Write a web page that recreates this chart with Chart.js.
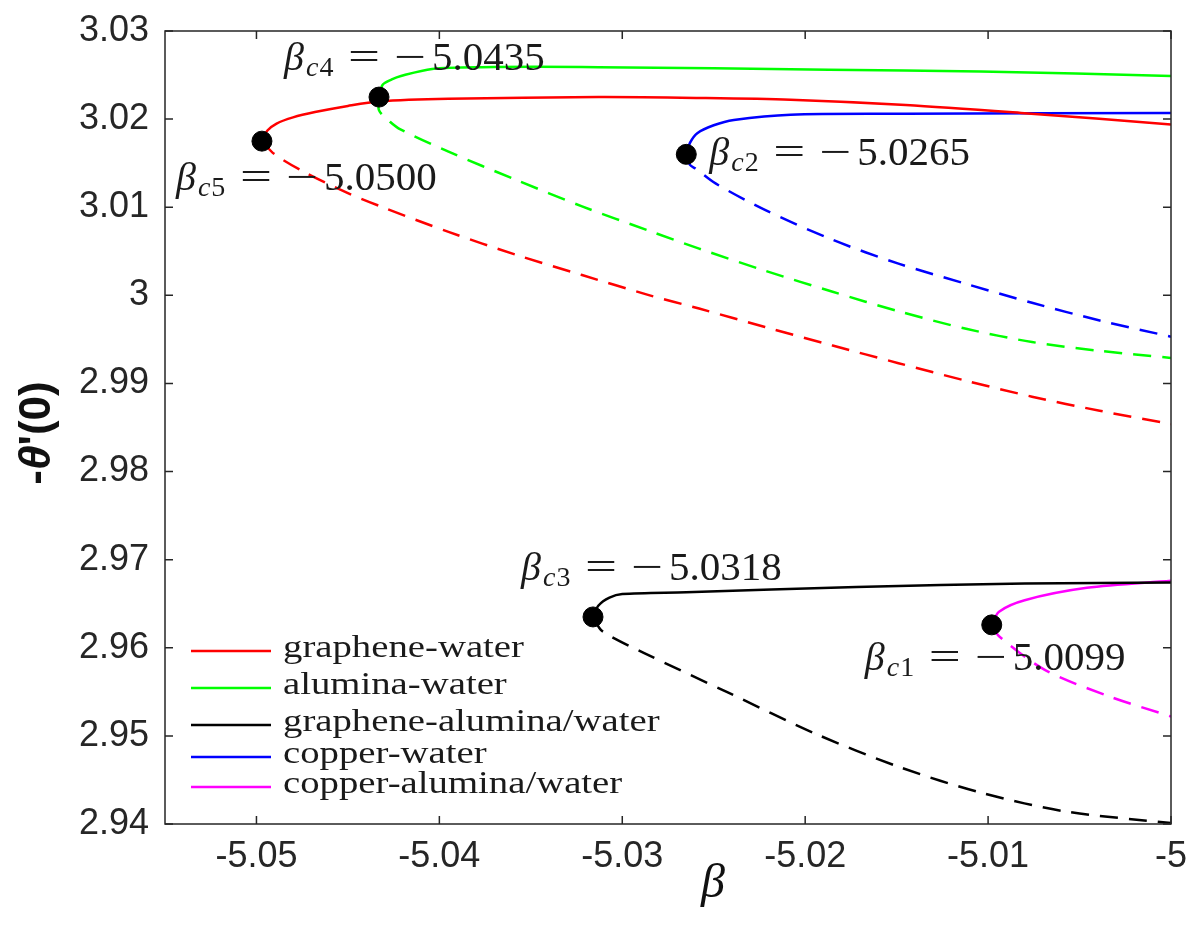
<!DOCTYPE html>
<html>
<head>
<meta charset="utf-8">
<script src="https://cdn.jsdelivr.net/npm/chart.js@4.4.1/dist/chart.umd.min.js"></script>
<style>
  html, body { margin: 0; padding: 0; background: #fff; }
  #wrap { width: 1202px; height: 925px; }
</style>
</head>
<body>
<div id="wrap"><canvas id="chart" width="1202" height="925"></canvas></div>
<script>
// values: beta on x, -theta'(0) on y
// each branch starts at its turning point (the black dot)

// graphene-water (red)
const grapheneUpperBeta = [-5.0497, -5.0494, -5.0489, -5.0480, -5.0468, -5.0450, -5.0433, -5.0395, -5.0313, -5.0258, -5.0208, -5.0145, -5.0082, -5.0000];
const grapheneUpperTheta = [3.0175, 3.0187, 3.0195, 3.0202, 3.0208, 3.0215, 3.0220, 3.0223, 3.0225, 3.0224, 3.0222, 3.0216, 3.0207, 3.0194];
const grapheneLowerBeta = [-5.0497, -5.0490, -5.0473, -5.0450, -5.0431, -5.0395, -5.0358, -5.0322, -5.0285, -5.0258, -5.0222, -5.0185, -5.0149, -5.0112, -5.0076, -5.0039, -5.0000];
const grapheneLowerTheta = [3.0175, 3.0160, 3.0139, 3.0116, 3.0100, 3.0072, 3.0046, 3.0023, 3.0000, 2.9985, 2.9964, 2.9943, 2.9923, 2.9903, 2.9885, 2.9869, 2.9854];

// alumina-water (green)
const aluminaUpperBeta = [-5.0433, -5.0431, -5.0426, -5.0421, -5.0404, -5.0377, -5.0313, -5.0187, -5.0104, -5.0000];
const aluminaUpperTheta = [3.0225, 3.0239, 3.0245, 3.0249, 3.0257, 3.0259, 3.0259, 3.0256, 3.0254, 3.0249];
const aluminaLowerBeta = [-5.0433, -5.0433, -5.0427, -5.0421, -5.0395, -5.0358, -5.0322, -5.0285, -5.0258, -5.0222, -5.0185, -5.0149, -5.0112, -5.0076, -5.0039, -5.0000];
const aluminaLowerTheta = [3.0225, 3.0210, 3.0197, 3.0188, 3.0163, 3.0131, 3.0101, 3.0073, 3.0053, 3.0028, 3.0004, 2.9982, 2.9962, 2.9947, 2.9937, 2.9929];

// graphene-alumina/water (black)
const hybridGUpperBeta = [-5.0316, -5.0313, -5.0307, -5.0300, -5.0265, -5.0172, -5.0080, -5.0000];
const hybridGUpperTheta = [2.9635, 2.9648, 2.9657, 2.9661, 2.9663, 2.9669, 2.9673, 2.9674];
const hybridGLowerBeta = [-5.0316, -5.0311, -5.0288, -5.0242, -5.0195, -5.0149, -5.0103, -5.0057, -5.0000];
const hybridGLowerTheta = [2.9635, 2.9619, 2.9594, 2.9549, 2.9503, 2.9465, 2.9435, 2.9414, 2.9401];

// copper-water (blue)
const copperUpperBeta = [-5.0265, -5.0263, -5.0259, -5.0250, -5.0239, -5.0208, -5.0145, -5.0000];
const copperUpperTheta = [3.0160, 3.0173, 3.0184, 3.0193, 3.0199, 3.0205, 3.0206, 3.0207];
const copperLowerBeta = [-5.0265, -5.0263, -5.0260, -5.0249, -5.0222, -5.0185, -5.0149, -5.0112, -5.0076, -5.0039, -5.0000];
const copperLowerTheta = [3.0160, 3.0148, 3.0144, 3.0127, 3.0097, 3.0063, 3.0036, 3.0013, 2.99915, 2.99715, 2.9953];

// copper-alumina/water (magenta)
const hybridCUpperBeta = [-5.0098, -5.0094, -5.0080, -5.0046, -5.0000];
const hybridCUpperTheta = [2.9626, 2.9641, 2.9654, 2.9668, 2.9676];
const hybridCLowerBeta = [-5.0098, -5.0094, -5.0069, -5.0034, -5.0000];
const hybridCLowerTheta = [2.9626, 2.9613, 2.9575, 2.9545, 2.9522];

// turning points (dots) and the critical values printed next to them
const dotBeta = [-5.0098, -5.0265, -5.0316, -5.0433, -5.0497];
const dotTheta = [2.9626, 3.0160, 2.9635, 3.0225, 3.0175];
const criticalNames = ["c1", "c2", "c3", "c4", "c5"];
const criticalBeta = [-5.0099, -5.0265, -5.0318, -5.0435, -5.0500];

const seriesNames = ["graphene-water", "alumina-water", "graphene-alumina/water", "copper-water", "copper-alumina/water"];
const seriesColors = ["#ff0000", "#00ff00", "#000000", "#0000ff", "#ff00ff"];

const xTicks = [-5.05, -5.04, -5.03, -5.02, -5.01, -5];
const yTicks = [2.94, 2.95, 2.96, 2.97, 2.98, 2.99, 3.0, 3.01, 3.02, 3.03];

const toPoints = (bs, ts) => bs.map((b, i) => ({ x: b, y: ts[i] }));

const curve = function (bs, ts, color, dashed) {
  return {
    data: toPoints(bs, ts),
    showLine: true,
    borderColor: color,
    borderWidth: 2.5,
    borderDash: dashed ? [18, 11] : [],
    pointRadius: 0,
    tension: 0.3,
    fill: false,
  };
};

const datasets = [
  {
    data: toPoints(dotBeta, dotTheta),
    pointRadius: 10,
    pointBackgroundColor: "#000",
    pointBorderColor: "#000",
    showLine: false,
  },
  curve(grapheneUpperBeta, grapheneUpperTheta, seriesColors[0], false),
  curve(grapheneLowerBeta, grapheneLowerTheta, seriesColors[0], true),
  curve(aluminaUpperBeta, aluminaUpperTheta, seriesColors[1], false),
  curve(aluminaLowerBeta, aluminaLowerTheta, seriesColors[1], true),
  curve(hybridGUpperBeta, hybridGUpperTheta, seriesColors[2], false),
  curve(hybridGLowerBeta, hybridGLowerTheta, seriesColors[2], true),
  curve(copperUpperBeta, copperUpperTheta, seriesColors[3], false),
  curve(copperLowerBeta, copperLowerTheta, seriesColors[3], true),
  curve(hybridCUpperBeta, hybridCUpperTheta, seriesColors[4], false),
  curve(hybridCLowerBeta, hybridCLowerTheta, seriesColors[4], true),
];

const SERIF = '"Liberation Serif", "Times New Roman", serif';
const SANS = '"Liberation Sans", Arial, sans-serif';
const AXIS_COLOR = "#262626";

// label offsets from each dot (px), baseline-left of the beta
const labelOffsets = [[-127, 45], [23, 11], [-72, -37], [-95, -27], [-86, 49]];
const legendRowY = [651, 688, 725, 757, 787];

const stretchText = function (ctx, s, x, y, w, font) {
  ctx.font = font;
  const m = ctx.measureText(s).width;
  ctx.save();
  ctx.translate(x, y);
  ctx.scale(w / m, 1);
  ctx.fillText(s, 0, 0);
  ctx.restore();
};

const drawCritical = function (ctx, x0, y0, name, value) {
  ctx.fillStyle = "#1a1a1a";
  ctx.textAlign = "left";
  ctx.textBaseline = "alphabetic";
  ctx.font = `italic 40px ${SERIF}`;
  ctx.fillText("β", x0, y0);
  // subscript: italic c, upright digit
  ctx.font = `italic 28px ${SERIF}`;
  ctx.fillText(name[0], x0 + 22, y0 + 6);
  const cw = ctx.measureText(name[0]).width;
  ctx.font = `28px ${SERIF}`;
  ctx.fillText(name.slice(1), x0 + 23 + cw, y0 + 6);
  stretchText(ctx, "=", x0 + 64, y0, 32, `40px ${SERIF}`);
  stretchText(ctx, "−", x0 + 110, y0, 32, `40px ${SERIF}`);
  ctx.font = `41px ${SERIF}`;
  ctx.fillText(Math.abs(value).toFixed(4), x0 + 148, y0);
};

const overlay = {
  id: "overlay",
  afterDatasetsDraw(chart) {
    const { ctx, chartArea: a, scales } = chart;
    const x = scales.x;
    const y = scales.y;
    ctx.save();

    // box + inward ticks on all four sides
    ctx.strokeStyle = AXIS_COLOR;
    ctx.lineWidth = 1.5;
    ctx.strokeRect(a.left, a.top, a.right - a.left, a.bottom - a.top);
    const tl = 8;
    ctx.beginPath();
    x.ticks.forEach((t) => {
      const px = x.getPixelForValue(t.value);
      ctx.moveTo(px, a.bottom);
      ctx.lineTo(px, a.bottom - tl);
      ctx.moveTo(px, a.top);
      ctx.lineTo(px, a.top + tl);
    });
    y.ticks.forEach((t) => {
      const py = y.getPixelForValue(t.value);
      ctx.moveTo(a.left, py);
      ctx.lineTo(a.left + tl, py);
      ctx.moveTo(a.right, py);
      ctx.lineTo(a.right - tl, py);
    });
    ctx.stroke();

    // critical point labels
    dotBeta.forEach((b, i) => {
      const px = x.getPixelForValue(b);
      const py = y.getPixelForValue(dotTheta[i]);
      drawCritical(ctx, px + labelOffsets[i][0], py + labelOffsets[i][1], criticalNames[i], criticalBeta[i]);
    });

    // legend, no box
    seriesNames.forEach((name, i) => {
      const ly = legendRowY[i];
      ctx.strokeStyle = seriesColors[i];
      ctx.lineWidth = 2.5;
      ctx.beginPath();
      ctx.moveTo(191, ly);
      ctx.lineTo(271, ly);
      ctx.stroke();
      ctx.fillStyle = "#1a1a1a";
      ctx.font = `31px ${SERIF}`;
      ctx.textAlign = "left";
      ctx.textBaseline = "alphabetic";
      ctx.save();
      ctx.translate(283, ly + 6);
      ctx.scale(1.25, 1);
      ctx.fillText(name, 0, 0);
      ctx.restore();
    });

    // axis titles
    ctx.fillStyle = "#111";
    ctx.font = `italic 48px ${SERIF}`;
    ctx.textAlign = "center";
    ctx.textBaseline = "middle";
    ctx.fillText("β", 713, 884);

    ctx.save();
    ctx.translate(38, 433);
    ctx.rotate(-Math.PI / 2);
    ctx.textBaseline = "middle";
    ctx.textAlign = "left";
    const parts = [["-", `bold 44px ${SANS}`], ["θ", `bold italic 44px ${SANS}`], ["'(0)", `bold 44px ${SANS}`]];
    let total = 0;
    parts.forEach((p) => { ctx.font = p[1]; total += ctx.measureText(p[0]).width; });
    let cx = -total / 2;
    parts.forEach((p) => {
      ctx.font = p[1];
      ctx.fillText(p[0], cx, 0);
      cx += ctx.measureText(p[0]).width;
    });
    ctx.restore();

    ctx.restore();
  },
};

const fmt = (v) => String(Number(v.toFixed(2)));

const config = {
  type: "scatter",
  data: { datasets },
  options: {
    responsive: false,
    animation: false,
    devicePixelRatio: 1,
    layout: { padding: { top: 31, right: 31, left: 0, bottom: 0 } },
    plugins: { legend: { display: false }, tooltip: { enabled: false } },
    scales: {
      x: {
        type: "linear",
        min: -5.055,
        max: -5,
        afterFit: (s) => { s.height = 101; },
        afterBuildTicks: (s) => { s.ticks = xTicks.map((v) => ({ value: v })); },
        grid: { display: false, drawTicks: false },
        border: { display: false },
        ticks: {
          callback: fmt,
          color: AXIS_COLOR,
          font: { family: SANS, size: 36 },
          padding: 11,
          maxRotation: 0,
        },
      },
      y: {
        type: "linear",
        min: 2.94,
        max: 3.03,
        afterFit: (s) => { s.width = 165; },
        afterBuildTicks: (s) => { s.ticks = yTicks.map((v) => ({ value: v })); },
        grid: { display: false, drawTicks: false },
        border: { display: false },
        ticks: {
          callback: fmt,
          color: AXIS_COLOR,
          // small lineHeight so label overflow does not push the plot top down
          font: { family: SANS, size: 36, lineHeight: 0.8 },
          padding: 16,
        },
      },
    },
  },
  plugins: [overlay],
};

new Chart(document.getElementById("chart"), config);
</script>
</body>
</html>
